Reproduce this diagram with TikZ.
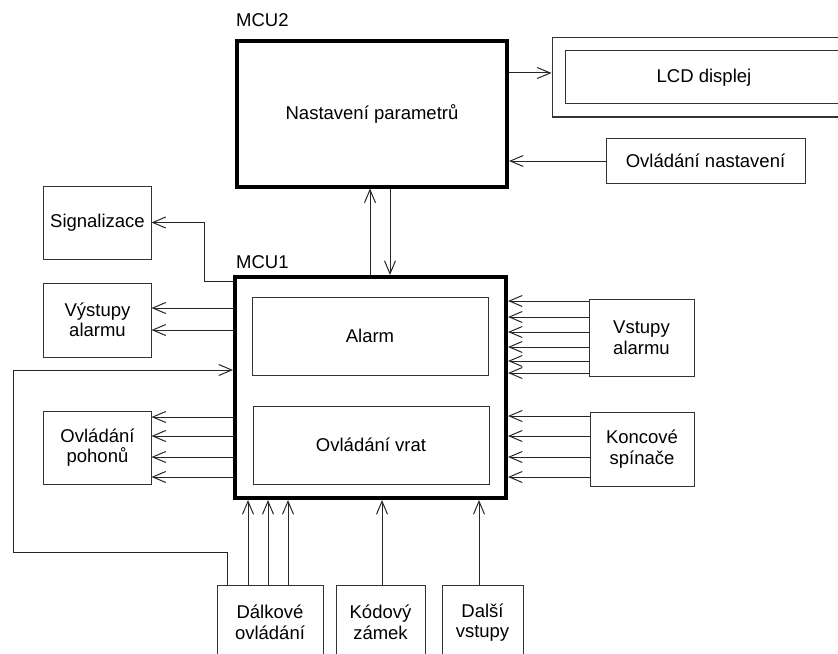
\documentclass[tikz,border=0pt]{standalone}
\usepackage{fontspec}
\setmainfont{Liberation Sans}
\usetikzlibrary{arrows.meta}
\begin{document}
\begin{tikzpicture}[x=1bp,y=-1bp,
  font=\fontsize{18.5bp}{20.5bp}\selectfont,
  box/.style={draw=black!80,line width=1bp,inner sep=0pt,align=center,minimum width=#1},
  mcubox/.style={draw=black,line width=4bp,inner sep=0pt,align=center},
  lbl/.style={anchor=west,inner sep=0pt},
  arr/.style={draw=black!85,line width=1bp,-{Straight Barb[length=13bp,width=11bp,line width=1bp]}},
  wire/.style={draw=black!85,line width=1bp}]
\useasboundingbox (0,0) rectangle (838,654);
\clip (0,0) rectangle (838,654);

% controllers
\node[mcubox,minimum width=270bp,minimum height=145.5bp] (mcu2) at (372,113.75) {Nastavení parametrů};
\node[lbl] (mcu2lbl) at (236,20) {MCU2};
\node[mcubox,minimum width=271bp,minimum height=221bp] (mcu1) at (370.5,387.5) {};
\node[lbl] (mcu1lbl) at (236,262) {MCU1};
\node[box=236bp,minimum height=78bp] (alarm) at (370,336) {Alarm};
\node[box=236bp,minimum height=78bp] (vrat) at (371,445) {Ovládání vrat};

% display
\node[box=304bp,minimum height=79bp] (lcdout) at (704,77.5) {};
\node[box=278bp,minimum height=53bp] (lcd) at (704,77.5) {LCD displej};
\node[box=199bp,minimum height=44bp] (nast) at (705.5,161) {Ovládání nastavení};

% left column
\node[box=107bp,minimum height=73bp] (sig) at (97.5,222.5) {Signalizace};
\node[box=107bp,minimum height=74bp] (vyst) at (97.5,320) {Výstupy\\alarmu};
\node[box=107bp,minimum height=73bp] (poh) at (97.5,447.5) {Ovládání\\pohonů};

% right column
\node[box=105bp,minimum height=77bp] (vst) at (641.5,337.5) {Vstupy\\alarmu};
\node[box=104bp,minimum height=74bp] (konc) at (642,449) {Koncové\\spínače};

% bottom row
\node[box=106bp,minimum height=75bp] (dalk) at (270,622.5) {Dálkové\\ovládání};
\node[box=89bp,minimum height=75bp] (kod) at (380.5,622.5) {Kódový\\zámek};
\node[box=81bp,minimum height=75bp] (dalsi) at (482.5,622.5) {Další\\vstupy};

% MCU2 links
\draw[arr] (mcu2.east |- 0,73) -- (lcdout.west |- 0,73);
\draw[arr] (nast.west) -- (mcu2.east |- nast.west);
\draw[arr] (mcu1.north -| 370,0) -- (mcu2.south -| 370,0);
\draw[arr] (mcu2.south -| 390,0) -- (mcu1.north -| 390,0);

% MCU1 outputs
\draw[arr] (mcu1.west |- 0,281) -- (204,281) -- (204,222.5) -- (sig.east);
\foreach \y in {308,330} \draw[arr] (mcu1.west |- 0,\y) -- (vyst.east |- 0,\y);
\foreach \y in {417,436,457,477} \draw[arr] (mcu1.west |- 0,\y) -- (poh.east |- 0,\y);

% MCU1 inputs
\foreach \y in {301,317,332,347,361,373} \draw[arr] (vst.west |- 0,\y) -- (mcu1.east |- 0,\y);
\foreach \y in {416,436,457,477} \draw[arr] (konc.west |- 0,\y) -- (mcu1.east |- 0,\y);
\foreach \x in {248,268,288} \draw[arr] (dalk.north -| \x,0) -- (mcu1.south -| \x,0);
\draw[arr] (kod.north -| 382,0) -- (mcu1.south -| 382,0);
\draw[arr] (dalsi.north -| 479,0) -- (mcu1.south -| 479,0);

% remote control feedback loop
\draw[arr] (dalk.north -| 227,0) -- (227,552) -- (13,552) -- (13,370) -- (mcu1.west |- 0,370);
\end{tikzpicture}
\end{document}
